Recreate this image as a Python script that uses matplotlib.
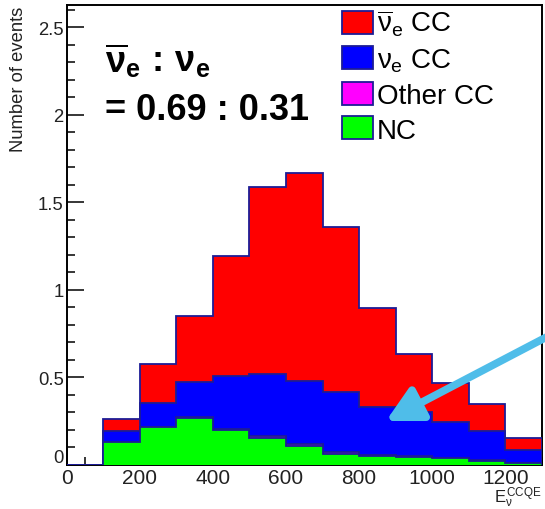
import matplotlib.pyplot as plt
import numpy as np
from matplotlib.patches import Patch
from matplotlib.ticker import MultipleLocator, FuncFormatter

plt.rcParams['font.family'] = 'Liberation Sans'
plt.rcParams['mathtext.fontset'] = 'custom'
plt.rcParams['mathtext.rm'] = 'Liberation Sans'
plt.rcParams['mathtext.it'] = 'Liberation Sans'
plt.rcParams['mathtext.bf'] = 'Liberation Sans:bold'

# reconstructed energy bins (MeV)
bin_edges = np.arange(0, 1301, 100)

# events per bin, one list per component (bottom of the stack first)
nc = [0, 0.128, 0.214, 0.265, 0.197, 0.150, 0.106, 0.060, 0.050, 0.043, 0.037, 0.022, 0.008]
other_cc = [0, 0.003, 0.003, 0.004, 0.006, 0.014, 0.014, 0.012, 0.006, 0.004, 0.003, 0.002, 0.001]
nue_cc = [0, 0.059, 0.134, 0.201, 0.302, 0.353, 0.357, 0.342, 0.274, 0.253, 0.203, 0.166, 0.074]
nuebar_cc = [0, 0.070, 0.223, 0.380, 0.685, 1.068, 1.189, 0.943, 0.564, 0.331, 0.223, 0.156, 0.068]

labels = [r'$\overline{\nu}_{e}$ CC', r'$\nu_{e}$ CC', 'Other CC', 'NC']
colors = ['#ff0000', '#0000ff', '#ff00ff', '#00ff00']
line_col = '#1c1c96'

fig = plt.figure(figsize=(5.45, 5.10), dpi=100)
ax = fig.add_axes([66.5 / 545, 1 - 465.5 / 510, (542 - 66.5) / 545, (465.5 - 5.5) / 510])

# stacked histogram, drawn from the total downwards like THStack
stack = np.cumsum([nc, other_cc, nue_cc, nuebar_cc], axis=0)
for level, col in zip(stack[::-1], colors):
    ax.stairs(level, bin_edges, fill=True, facecolor=col, edgecolor='none', lw=0, zorder=3)
    ax.stairs(level, bin_edges, baseline=0, color=line_col, lw=1.3, zorder=3)

ax.set_xlim(0, 1300)
ax.set_ylim(0, 2.63)
ax.xaxis.set_major_locator(MultipleLocator(200))
ax.xaxis.set_minor_locator(MultipleLocator(50))
ax.yaxis.set_major_locator(MultipleLocator(0.5))
ax.yaxis.set_minor_locator(MultipleLocator(0.1))
# the y "0" is drawn separately, slightly raised, so it clears the x "0"
ax.yaxis.set_major_formatter(FuncFormatter(lambda v, p: '' if v == 0 else '%g' % v))
ax.tick_params(which='both', direction='in', width=1.1, color='black')
ax.tick_params(which='major', length=12)
ax.tick_params(which='minor', length=5.5)
ax.tick_params(axis='y', labelsize=13.3, pad=2, labelcolor='#222222')
ax.tick_params(axis='x', labelsize=15, pad=2.5, labelcolor='#222222')
for s in ax.spines.values():
    s.set_linewidth(1.4)
ax.annotate('0', xy=(0, 0), xycoords=('axes fraction', 'data'), xytext=(-2, -1),
            textcoords='offset points', ha='right', va='bottom', fontsize=13.3,
            color='#222222')

fig.text(19 / 545, 1 - 7 / 510, 'Number of events', rotation=90, ha='center', va='top',
         fontsize=13.2, color='#222222')
fig.text(494 / 545, 1 - 503 / 510, r'$E_{\nu}^{\mathrm{CCQE}}$', fontsize=12,
         ha='left', va='baseline', color='#222222')

# flux ratio annotation
fig.text(105 / 545, 1 - 72 / 510, r'$\mathbf{\overline{\nu}_{e}\,:\,\nu_{e}}$', fontsize=26,
         ha='left', va='baseline')
fig.text(105 / 545, 1 - 120 / 510, '= 0.69 : 0.31', fontsize=26, fontweight='bold',
         ha='left', va='baseline')

handles = [Patch(facecolor=c, edgecolor=line_col, lw=1.3) for c in colors]
ax.legend(handles, labels, loc='upper left', bbox_to_anchor=(342 / 545, 1 - 9 / 510),
          bbox_transform=fig.transFigure, frameon=False, fontsize=20, borderpad=0,
          borderaxespad=0, handlelength=1.1, handleheight=0.9, handletextpad=0.15,
          labelspacing=0.28)

# highlight arrow
ax.annotate('', xy=(386 / 545, 1 - 422 / 510), xycoords='figure fraction',
            xytext=(1.01, 1 - 336 / 510), textcoords='figure fraction',
            arrowprops=dict(arrowstyle='-|>,head_length=2.1,head_width=1.1',
                            color='#4fbde9', lw=5.5, shrinkA=0, shrinkB=0),
            annotation_clip=False, zorder=10)

fig.savefig('out.png', dpi=100)
